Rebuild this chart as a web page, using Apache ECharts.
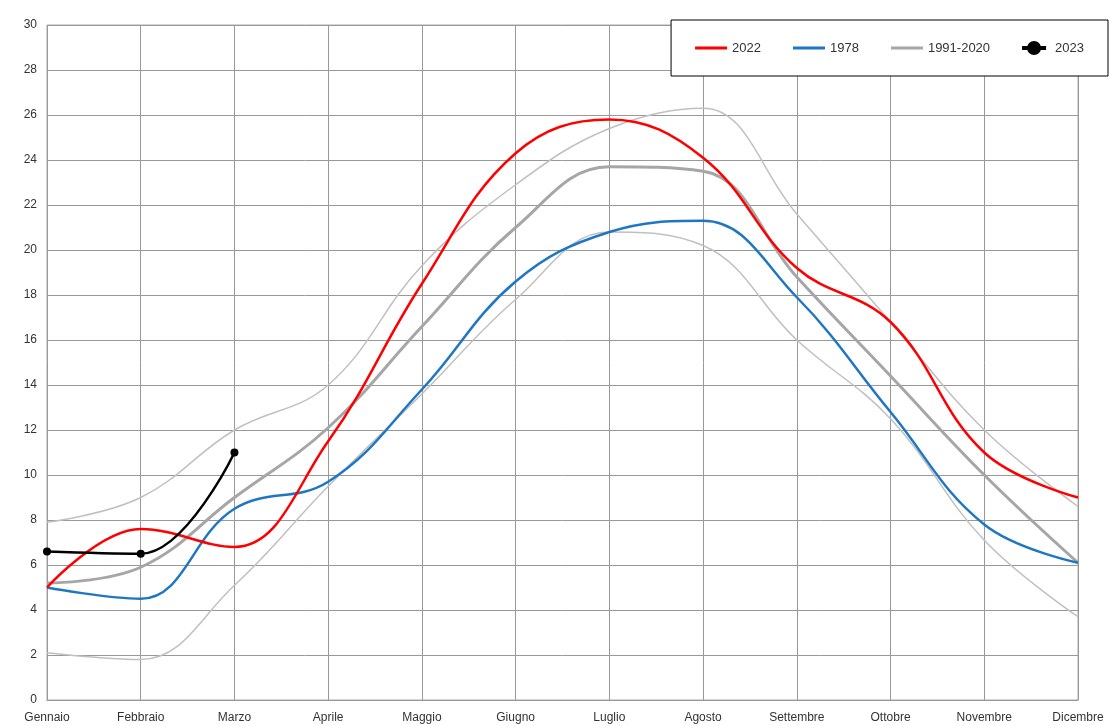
<!DOCTYPE html>
<html><head><meta charset="utf-8">
<script src="https://cdn.jsdelivr.net/npm/echarts@6/dist/echarts.min.js"></script>
<style>html,body{margin:0;padding:0;background:#fff}#c{width:1110px;height:726px}</style>
</head><body><div id="c"></div>
<script>
const months = ['Gennaio','Febbraio','Marzo','Aprile','Maggio','Giugno','Luglio','Agosto','Settembre','Ottobre','Novembre','Dicembre'];
const s2022 = [5.0,7.6,6.8,11.5,18.5,24.3,25.8,24.1,19.2,16.8,11.0,9.0];
const s1978 = [5.0,4.5,8.5,9.7,13.8,18.6,20.8,21.3,17.9,12.8,7.8,6.1];
const sMean = [5.2,5.9,9.0,12.1,16.6,21.0,23.7,23.5,18.8,14.4,10.0,6.1];
const sUpper = [7.9,9.0,12.0,14.0,19.3,22.9,25.4,26.3,21.6,16.8,12.0,8.6];
const sLower = [2.1,1.8,5.1,9.5,13.6,17.8,20.8,20.2,16.0,12.5,7.1,3.7];
const s2023 = [6.6,6.5,11.0];
const ch = echarts.init(document.getElementById('c'));
const font = 'Liberation Sans, Arial, sans-serif';
const lineIcon = 'path://M0,0L30,0L30,3L0,3Z';
ch.setOption({
  animation:false,
  grid:{left:47,right:32,top:25,bottom:26,show:true,borderColor:'#aaa',borderWidth:1},
  legend:{
    right:2,top:20,orient:'horizontal',
    padding:[21,24,21,24],itemGap:32,
    borderColor:'#000',borderWidth:1,backgroundColor:'#fff',
    itemWidth:32,itemHeight:14,
    textStyle:{fontFamily:font,fontSize:13,color:'#333'},
    data:[{name:'2022',icon:lineIcon},{name:'1978',icon:lineIcon},{name:'1991-2020',icon:lineIcon},
          {name:'2023',icon:'path://M0,4L12,4L12,6L0,6Z M6,1.5A3.5,3.5 0 1,1 5.99,1.5Z'}]
  },
  xAxis:{type:'category',data:months,boundaryGap:false,
    axisLine:{lineStyle:{color:'#999'}},axisTick:{show:false},
    splitLine:{show:true,lineStyle:{color:'#999',width:1}},
    axisLabel:{fontFamily:font,fontSize:12,color:'#333',margin:12,interval:0}},
  yAxis:{type:'value',min:0,max:30,interval:2,
    axisLine:{show:false},axisTick:{show:false},
    splitLine:{lineStyle:{color:'#999',width:1}},
    axisLabel:{fontFamily:font,fontSize:12,color:'#333',margin:10}},
  series:[
    {name:'upper',type:'line',data:sUpper,smooth:0.4,symbol:'none',lineStyle:{color:'#c0c0c0',width:1.5},z:1,silent:true},
    {name:'lower',type:'line',data:sLower,smooth:0.4,symbol:'none',lineStyle:{color:'#c0c0c0',width:1.5},z:1,silent:true},
    {name:'1991-2020',type:'line',data:sMean,smooth:0.4,symbol:'none',itemStyle:{color:'#a6a6a6'},lineStyle:{color:'#a6a6a6',width:3},z:2},
    {name:'1978',type:'line',data:s1978,smooth:0.4,symbol:'none',itemStyle:{color:'#1f77c4'},lineStyle:{color:'#1f77c4',width:2.5},z:3},
    {name:'2022',type:'line',data:s2022,smooth:0.4,symbol:'none',itemStyle:{color:'#ff0000'},lineStyle:{color:'#ff0000',width:2.5},z:4},
    {name:'2023',type:'line',data:s2023,smooth:0.4,symbol:'circle',symbolSize:8,itemStyle:{color:'#000'},lineStyle:{color:'#000',width:2.5},z:5}
  ]
});
</script></body></html>
